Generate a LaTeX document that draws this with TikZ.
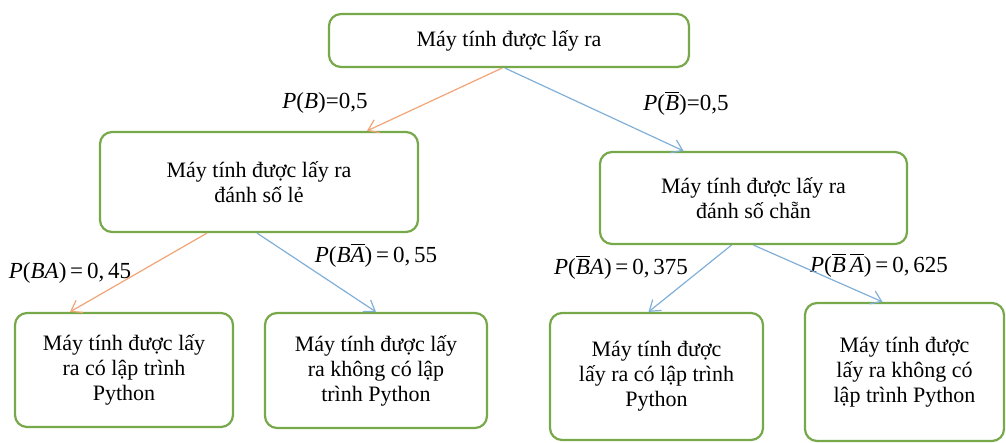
\documentclass[tikz,border=0pt]{standalone}
\usepackage{amsmath}
\usepackage{fontspec}
\setmainfont{Liberation Serif}
\usetikzlibrary{arrows.meta}
\definecolor{boxgreen}{HTML}{77A84A}
\definecolor{lineorange}{HTML}{F2A477}
\definecolor{lineblue}{HTML}{80AFD8}
\tikzset{
    %Define standard arrow tip
    >={Straight Barb[length=5pt,width=7pt]},
    %Define style for boxes
    hop/.style={
           rectangle,
           rounded corners=6pt,
           draw=boxgreen, line width=1.1pt,
           fill=white,
           align=center,
           inner sep=2pt,
           font=\fontsize{11}{12.5}\selectfont},
    % Define arrow style
    nhanh/.style={
           ->,
           line width=0.6pt},
    xacsuat/.style={
           inner sep=0pt,
           font=\fontsize{11.5}{13}\selectfont}
}
\begin{document}
\begin{tikzpicture}[x=0.5pt,y=-0.5pt]
\useasboundingbox (0,0) rectangle (1006,443);
 %nodes
\node[hop, minimum width=180pt, minimum height=26.5pt] (top) at (509,40.5) {Máy tính được lấy ra};
\node[hop, minimum width=159pt, minimum height=50pt] (le) at (259,182) {Máy tính được lấy ra\\đánh số lẻ};
\node[hop, minimum width=153.5pt, minimum height=46pt] (chan) at (753.5,198) {Máy tính được lấy ra\\đánh số chẵn};
\node[hop, minimum width=109pt, minimum height=57pt] (lecopy) at (124,370) {Máy tính được lấy\\ra có lập trình\\Python};
\node[hop, minimum width=111pt, minimum height=57.5pt] (lekopy) at (376,370.5) {Máy tính được lấy\\ra không có lập\\trình Python};
\node[hop, minimum width=106.5pt, minimum height=63.5pt] (chancopy) at (656.5,376.5) {Máy tính được\\lấy ra có lập trình\\Python};
\node[hop, minimum width=99.5pt, minimum height=69pt] (chankopy) at (904.5,372) {Máy tính được\\lấy ra không có\\lập trình Python};

 %labels
\node[xacsuat] (pb) at (325,103) {\textit{P}(\textit{B})=0,5};
\node[xacsuat] (pnb) at (686,103) {\textit{P}($\overline{\textit{B}}$)=0,5};
\node[xacsuat] (pba) at (70,273) {\textit{P}(\textit{BA})\,=\,0,\,45};
\node[xacsuat] (pbna) at (376,255) {\textit{P}(\textit{B}$\overline{\textit{A}}$)\,=\,0,\,55};
\node[xacsuat] (pnba) at (621,267) {\textit{P}($\overline{\textit{B}}$\textit{A})\,=\,0,\,375};
\node[xacsuat] (pnbna) at (879,265) {\textit{P}($\overline{\textit{B}}\,\overline{\textit{A}}$)\,=\,0,\,625};

 \draw[nhanh, lineorange] ([xshift=-3.5pt]top.south) -- ([xshift=54pt]le.north);
 \draw[nhanh, lineblue] ([xshift=-2pt]top.south) -- ([xshift=-35pt]chan.north);
 \draw[nhanh, lineorange] ([xshift=-26pt]le.south) -- ([xshift=-27pt]lecopy.north);
 \draw[nhanh, lineblue] ([xshift=-1pt]le.south) -- (lekopy.north);
 \draw[nhanh, lineblue] ([xshift=-11pt]chan.south) -- ([xshift=-4pt]chancopy.north);
 \draw[nhanh, lineblue] (chan.south) -- ([xshift=-11pt]chankopy.north);
\end{tikzpicture}
\end{document}
